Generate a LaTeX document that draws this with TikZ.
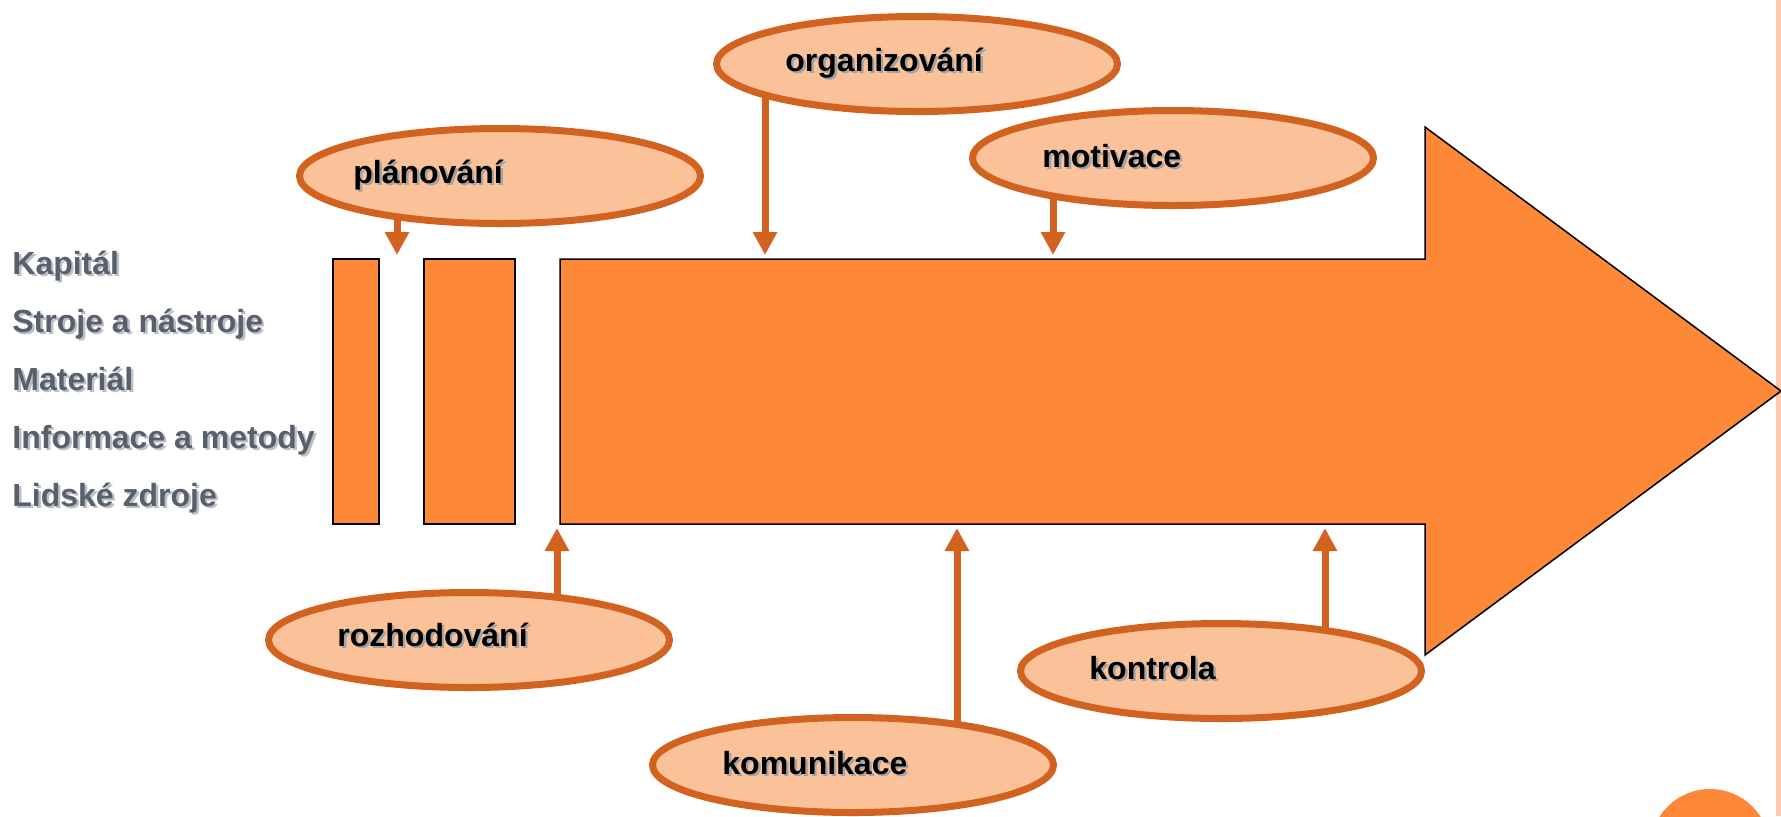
\documentclass[tikz,border=0pt]{standalone}
\usepackage{fontspec}
\setmainfont{Liberation Sans}
\usetikzlibrary{shapes.geometric,arrows.meta,backgrounds}
\definecolor{bodyorange}{HTML}{FD8837}
\definecolor{bubblefill}{HTML}{FBC299}
\definecolor{bubbleline}{HTML}{D2621F}
\definecolor{inputgray}{HTML}{58606E}
\definecolor{inputshadow}{HTML}{BCC0C6}
\definecolor{wordshadow}{HTML}{A3A3A3}
\definecolor{sidepink}{HTML}{FFC6B1}
\newcommand{\dropshadow}[2]{\rlap{\kern1.2pt\raisebox{-1.2pt}{\textcolor{#1}{#2}}}#2}

\begin{document}
\begin{tikzpicture}
[x=0.5pt,y=-0.5pt,
  bubble/.style={shape=ellipse,draw=bubbleline,fill=bubblefill,line width=3.5pt,
    minimum width=200.5pt,minimum height=47.5pt,inner sep=0pt},
  bubbletext/.style={anchor=base west,inner sep=0pt,font=\bfseries\fontsize{16}{19}\selectfont},
  inputtext/.style={anchor=base west,inner sep=0pt,text=inputgray,
    font=\bfseries\fontsize{16}{19}\selectfont},
  bodydecorate/.style={fill=bodyorange,draw=black,line width=0.75pt,line join=miter},
  feed/.style={draw=bubbleline,line width=3.5pt,-{Triangle[width=11.5pt,length=11.5pt]}}]
\useasboundingbox (0,0) rectangle (1781,816);
%% bubbles
\foreach \nodename/\x/\y in {plan/500/176, org/917/64, mot/1173/158,
  roz/469/640, kom/853/765, kon/1221/671} {
  \node[bubble] (\nodename) at (\x,\y) {};
}
\foreach \nodename/\x/\y/\word in {plan/353/183/plánování, org/785/71/organizování,
  mot/1042/167/motivace, roz/337/646/rozhodování, kom/722/774/komunikace,
  kon/1089/679/kontrola} {
  \node[bubbletext] (\nodename-text) at (\x,\y) {\dropshadow{wordshadow}{\word}};
}
%% inputs
\foreach \nodename/\y/\word in {kapital/274/Kapitál, stroje/332/Stroje a nástroje,
  material/390/Materiál, informace/448/Informace a metody, lidske/506/Lidské zdroje} {
  \node[inputtext] (\nodename) at (12,\y) {\dropshadow{inputshadow}{\word}};
}
\begin{pgfonlayer}{background}
%% page strip and badge
\fill[sidepink] (1776,0) rectangle (1781,816);
\fill[bodyorange] (1710,849) circle (30pt);
%% blocks and the big arrow
\draw[bodydecorate] (333,259) rectangle (379,524);
\draw[bodydecorate] (424,259) rectangle (515,524);
\draw[bodydecorate] (560,259) -- (1425,259) -- (1425,127) -- (1781,391)
  -- (1425,655) -- (1425,524) -- (560,524) -- cycle;
%% feeds
\foreach \startnode/\x/\y in {plan/397/255, org/765/255, mot/1053/255,
  roz/557/528, kom/957/528, kon/1325/528} {
  \coordinate (\startnode-in) at (\x,\y);
  \draw[feed] (\startnode-in |- \startnode) -- (\startnode-in);
}
\end{pgfonlayer}
\end{tikzpicture}
\end{document}
